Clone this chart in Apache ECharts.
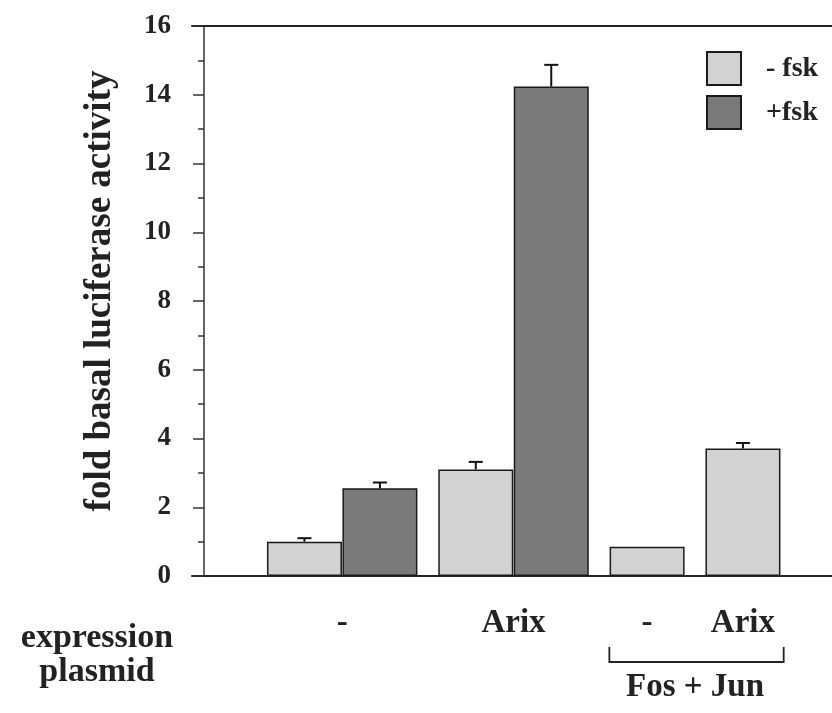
<!DOCTYPE html>
<html><head><meta charset="utf-8">
<script src="https://cdn.jsdelivr.net/npm/echarts@6/dist/echarts.min.js"></script>
<style>html,body{margin:0;padding:0;background:#fff}#c{width:832px;height:713px}</style>
</head><body><div id="c"></div>
<script>
// ---------------- data ----------------
const plasmids = ['-', 'Arix', '-', 'Arix'];
const cotransfected = ['', '', 'Fos + Jun', 'Fos + Jun'];
const seriesNames = ['- fsk', '+fsk'];
const minusFsk = [1.0, 3.1, 0.85, 3.71];
const minusFskErr = [0.1, 0.22, 0, 0.16];
const plusFsk = [2.55, 14.24, null, null];
const plusFskErr = [0.17, 0.63, null, null];
const yTicks = [0, 2, 4, 6, 8, 10, 12, 14, 16];
const yAxisTitle = 'fold basal luciferase activity';
const xAxisTitle = 'expression\nplasmid';

// ---------------- layout (axis units: one bar = 1 unit) ----------------
const FIRST_EDGE = 0.83, GROUP_GAP = 0.27;
const SERIF = '"Liberation Serif", "Times New Roman", serif';
const bars = [];
const groupCenters = [];
const groupEdges = [];
let edge = FIRST_EDGE;
plasmids.forEach((p, g) => {
  const xs = [];
  [[minusFsk, minusFskErr, 0], [plusFsk, plusFskErr, 1]].forEach(([vals, errs, s]) => {
    if (vals[g] == null) return;
    const x = edge + 0.5;
    bars.push({ x, v: vals[g], e: errs[g], s, g });
    xs.push(x);
    edge += 1;
  });
  groupCenters.push(xs.reduce((a, b) => a + b, 0) / xs.length);
  groupEdges.push([Math.min(...xs) - 0.5, Math.max(...xs) + 0.5]);
  edge += GROUP_GAP;
});
// spans of groups sharing a co-transfection label
const spans = [];
cotransfected.forEach((c, g) => {
  if (!c) return;
  const last = spans[spans.length - 1];
  if (last && last.label === c && last.endGroup === g - 1) {
    last.endGroup = g; last.right = groupEdges[g][1];
  } else {
    spans.push({ label: c, endGroup: g, left: groupEdges[g][0], right: groupEdges[g][1] });
  }
});

const colors = ['#d2d2d2', '#7a7a7a'];
const X_MIN = -0.16, X_MAX = 8.32;

const chart = echarts.init(document.getElementById('c'), null, { renderer: 'canvas' });
chart.setOption({
  backgroundColor: '#fff',
  animation: false,
  grid: { left: 192, right: 0, top: 26, bottom: 137, containLabel: false },
  legend: {
    orient: 'vertical', left: 701, top: 46,
    itemWidth: 34, itemHeight: 33, itemGap: 9, icon: 'rect',
    data: seriesNames,
    textStyle: { fontFamily: SERIF, fontWeight: 'bold', fontSize: 28, color: '#222', padding: [0, 0, 0, 20] },
    selectedMode: false
  },
  xAxis: [
    { type: 'value', min: X_MIN, max: X_MAX, position: 'bottom',
      axisLine: { show: true, onZero: true, lineStyle: { color: '#222', width: 2 } },
      axisTick: { show: false }, axisLabel: { show: false }, splitLine: { show: false } },
    { type: 'value', min: X_MIN, max: X_MAX, position: 'top',
      axisLine: { show: true, onZero: false, lineStyle: { color: '#222', width: 2 } },
      axisTick: { show: false }, axisLabel: { show: false }, splitLine: { show: false } }
  ],
  yAxis: {
    type: 'value', min: yTicks[0], max: yTicks[yTicks.length - 1], interval: yTicks[1] - yTicks[0],
    axisLine: { show: true, onZero: true, onZeroAxisIndex: 0, lineStyle: { color: '#333', width: 1.5 } },
    axisTick: { show: true, inside: false, length: 11, lineStyle: { color: '#333', width: 1.5 } },
    minorTick: { show: true, splitNumber: 2, length: 6, lineStyle: { color: '#333', width: 1.5 } },
    splitLine: { show: false },
    axisLabel: { margin: 21, fontFamily: SERIF, fontWeight: 'bold', fontSize: 27, color: '#222' },
    name: yAxisTitle, nameLocation: 'middle', nameGap: 73, nameRotate: 90,
    nameTextStyle: { fontFamily: SERIF, fontWeight: 'bold', fontSize: 37, color: '#222', padding: [0, 0, 0, 20] }
  },
  graphic: [{
    type: 'text', left: 14, top: 621,
    style: { text: xAxisTitle, font: 'bold 34px ' + SERIF, fill: '#222', textAlign: 'center', lineHeight: 34, width: 166 }
  }],
  series: [
    { name: seriesNames[0], type: 'bar', barWidth: 75, barGap: '-100%', z: 2,
      itemStyle: { color: colors[0], borderColor: '#1a1a1a', borderWidth: 1.5 },
      data: bars.filter(b => b.s === 0).map(b => [b.x, b.v]) },
    { name: seriesNames[1], type: 'bar', barWidth: 75, barGap: '-100%', z: 2,
      itemStyle: { color: colors[1], borderColor: '#1a1a1a', borderWidth: 1.5 },
      data: bars.filter(b => b.s === 1).map(b => [b.x, b.v]) },
    { name: 'err', type: 'custom', z: 5, silent: true,
      encode: { x: 0, y: 1 },
      data: bars.filter(b => b.e > 0).map(b => [b.x, b.v, b.e]),
      renderItem: (params, api) => {
        const x = api.value(0), v = api.value(1), e = api.value(2);
        const p0 = api.coord([x, v]), p1 = api.coord([x, v + e]);
        const st = { stroke: '#111', lineWidth: 2 };
        return { type: 'group', children: [
          { type: 'line', shape: { x1: p0[0], y1: p0[1], x2: p1[0], y2: p1[1] }, style: st },
          { type: 'line', shape: { x1: p1[0] - 7, y1: p1[1], x2: p1[0] + 7, y2: p1[1] }, style: st }
        ] };
      } },
    { name: 'plasmidLabels', type: 'custom', z: 5, silent: true,
      encode: { x: 0, y: 1 },
      data: groupCenters.map(c => [c, 0]),
      renderItem: (params, api) => {
        const p = api.coord([api.value(0), 0]);
        return { type: 'text', x: p[0], y: p[1] + 47,
          style: { text: plasmids[params.dataIndex], font: 'bold 33px ' + SERIF, fill: '#222',
                   textAlign: 'center', textVerticalAlign: 'middle' } };
      } },
    { name: 'brackets', type: 'custom', z: 5, silent: true,
      encode: { x: 0, y: 1 },
      data: spans.map(s => [s.left, 0, s.right]),
      renderItem: (params, api) => {
        const a = api.coord([api.value(0), 0]), b = api.coord([api.value(2), 0]);
        const y0 = a[1];
        return { type: 'group', children: [
          { type: 'polyline', shape: { points: [[a[0], y0 + 71], [a[0], y0 + 86], [b[0] + 3, y0 + 86], [b[0] + 3, y0 + 71]] },
            style: { stroke: '#222', lineWidth: 1.8, fill: null } },
          { type: 'text', x: (a[0] + b[0]) / 2, y: y0 + 111,
            style: { text: spans[params.dataIndex].label, font: 'bold 33px ' + SERIF, fill: '#222',
                     textAlign: 'center', textVerticalAlign: 'middle' } }
        ] };
      } }
  ]
});
</script></body></html>
